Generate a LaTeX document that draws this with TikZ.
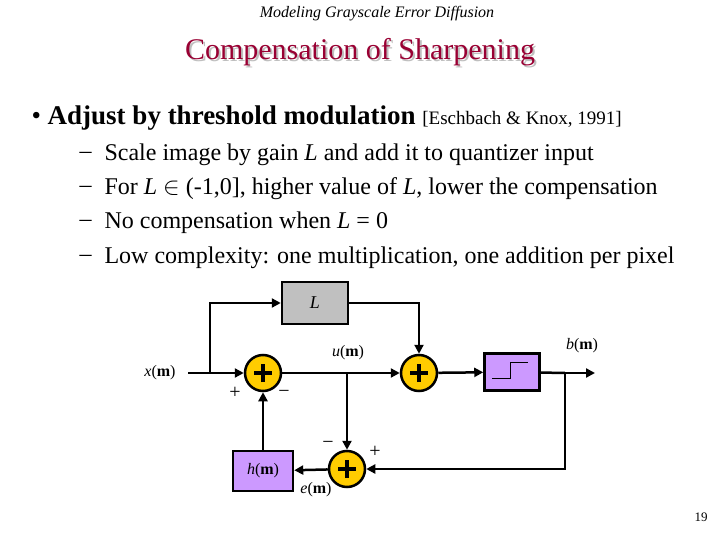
\documentclass[tikz,border=0pt]{standalone}
\usepackage{fontspec}
\setmainfont{Liberation Serif}
\usetikzlibrary{arrows.meta}
\definecolor{ttl}{RGB}{153,0,51}
\definecolor{sumc}{RGB}{255,204,0}
\definecolor{purp}{RGB}{204,153,255}
\definecolor{grayb}{RGB}{192,192,192}
\tikzset{
 sumn/.style={circle,draw,line width=2.5pt,fill=sumc,minimum size=36pt,inner sep=0pt},
 blk/.style={draw,line width=2.5pt,fill=purp,inner sep=0pt},
 wire/.style={line width=2.5pt,-{Triangle[length=9pt,width=9pt]}},
 ln/.style={line width=2.5pt},
 lab/.style={font=\fontsize{16}{16}\selectfont},
 sg/.style={font=\fontsize{20}{20}\selectfont}
}
\newcommand{\bigplus}{\tikz[x=1pt,y=1pt]{\draw[line width=3.5pt] (-9,0)--(9,0) (0,-9)--(0,9);}}
\begin{document}
\begin{tikzpicture}[x=1pt,y=-1pt]
\useasboundingbox (0,0) rectangle (720,540);
\node[font=\fontsize{16}{16}\selectfont\itshape] (hdr) at (377,14) {Modeling Grayscale Error Diffusion};
\node[font=\fontsize{30}{30}\selectfont,text=gray!50] (ttls) at (362,54) {Compensation of Sharpening};
\node[font=\fontsize{30}{30}\selectfont,text=ttl] (ttl) at (360,52) {Compensation of Sharpening};
\node[anchor=west,font=\fontsize{27}{27}\selectfont] (b1) at (28,118) {\textbullet\ \textbf{Adjust by threshold modulation} {\fontsize{19}{19}\selectfont [Eschbach \& Knox, 1991]}};
\begin{scope}[every node/.style={anchor=west,font=\fontsize{24}{24}\selectfont}]
\node (d1) at (76,155) {–};\node (t1) at (101,155) {Scale image by gain \textit{L} and add it to quantizer input};
\node (d2) at (76,189) {–};\node (t2) at (101,189) {For \textit{L} $\in$ (-1,0], higher value of \textit{L}, lower the compensation};
\node (d3) at (76,223) {–};\node (t3) at (101,223) {No compensation when \textit{L} = 0};
\node (d4) at (76,258) {–};\node (t4) at (101,258) {Low complexity: one multiplication, one addition per pixel};
\end{scope}
\node[draw,line width=2.5pt,fill=grayb,minimum width=66pt,minimum height=42pt,font=\fontsize{18}{18}\selectfont\itshape] (L) at (315,303) {L};
\node[sumn] (s1) at (263,373) {\bigplus};
\node[sumn] (s2) at (419,373) {\bigplus};
\node[sumn] (s3) at (347,469) {\bigplus};
\node[blk,minimum width=55pt,minimum height=37pt] (q) at (512,372) {};
\draw[line width=0.8pt] ([shift={(-20,6)}]q.center) -- ++(18,0) -- ++(0,-16) -- ++(18,0);
\node[blk,minimum width=60pt,minimum height=40pt,lab] (h) at (263,471) {\textit{h}(\textbf{m})};
\node[lab] (xl) at (160,373) {\textit{x}(\textbf{m})};
\coordinate (x0) at (188,373);
\coordinate (br) at (210,373);
\coordinate (ub) at (347,373);
\coordinate (bb) at (565,373);
\coordinate (bo) at (595,373);
\draw[ln] (x0) -- (br);
\draw[wire] (br) -- (s1);
\draw[wire] (br) |- (L);
\draw[wire] (L.east) -| (s2);
\draw[ln] (s1) -- (ub);
\draw[wire] (ub) -- (s2);
\draw[wire] (ub) -- (s3);
\draw[wire] (s2) -- (q);
\draw[ln] (q) -- (bb);
\draw[wire] (bb) -- (bo);
\draw[wire] (bb) |- (s3);
\draw[wire] (s3) -- (h);
\draw[wire] (h) -- (s1);
\node[lab] (ul) at (348,353) {\textit{u}(\textbf{m})};
\node[lab] (bl) at (582,346) {\textit{b}(\textbf{m})};
\node[lab] (el) at (316,490) {\textit{e}(\textbf{m})};
\node[sg] (p1) at (235,393) {+};
\node[sg] (m1) at (284,394) {−};
\node[sg] (m2) at (328,445) {−};
\node[sg] (p2) at (375,452) {+};
\node[font=\fontsize{13}{13}\selectfont] (pg) at (701,517) {19};
\end{tikzpicture}
\end{document}
